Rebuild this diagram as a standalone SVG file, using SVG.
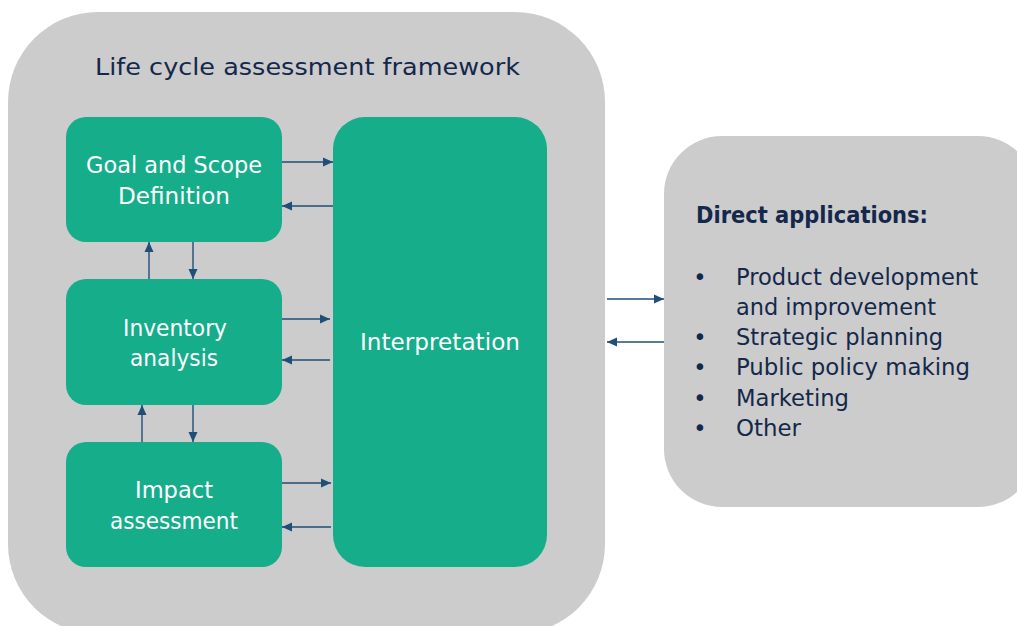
<svg xmlns="http://www.w3.org/2000/svg" width="1017" height="626" viewBox="0 0 1017 626">
<style>
.frame{fill:#cccccc}
.node{fill:#16ad8a}
.wt{fill:#ffffff;font-family:"DejaVu Sans",Verdana,sans-serif;font-size:22.5px;text-anchor:middle}
.dt{fill:#14284b;font-family:"DejaVu Sans",Verdana,sans-serif;font-size:22.5px}
.conn line{stroke:#1f4e79;stroke-width:1.4;marker-end:url(#ah)}
</style>
<defs>
<marker id="ah" viewBox="0 0 10 10" refX="10" refY="5" markerWidth="10" markerHeight="10" markerUnits="userSpaceOnUse" orient="auto">
<path d="M0,0.5 L10,5 L0,9.5 Z" fill="#1f4e79"/>
</marker>
</defs>
<rect width="1017" height="626" fill="#ffffff"/>
<g id="framework">
<rect class="frame" x="8" y="12" width="597" height="622" rx="90" ry="90"/>
<text class="dt" x="95" y="75" font-size="23" textLength="425" lengthAdjust="spacingAndGlyphs">Life cycle assessment framework</text>
</g>
<g id="goal">
<rect class="node" x="66" y="117" width="216" height="125" rx="20"/>
<text class="wt" x="174" y="173" textLength="176" lengthAdjust="spacingAndGlyphs">Goal and Scope</text>
<text class="wt" x="174" y="204" textLength="112" lengthAdjust="spacingAndGlyphs">Definition</text>
</g>
<g id="inventory">
<rect class="node" x="66" y="279" width="216" height="126" rx="20"/>
<text class="wt" x="175" y="336" textLength="104" lengthAdjust="spacingAndGlyphs">Inventory</text>
<text class="wt" x="174" y="366" textLength="88" lengthAdjust="spacingAndGlyphs">analysis</text>
</g>
<g id="impact">
<rect class="node" x="66" y="442" width="216" height="125" rx="20"/>
<text class="wt" x="174" y="498" textLength="78" lengthAdjust="spacingAndGlyphs">Impact</text>
<text class="wt" x="174" y="529" textLength="128" lengthAdjust="spacingAndGlyphs">assessment</text>
</g>
<g id="interpretation">
<rect class="node" x="333" y="117" width="214" height="450" rx="32"/>
<text class="wt" x="440" y="350" textLength="160" lengthAdjust="spacingAndGlyphs">Interpretation</text>
</g>
<g id="applications">
<rect class="frame" x="664" y="136" width="372" height="371" rx="58"/>
<text class="dt" x="696" y="223" font-weight="bold" font-size="21" textLength="232" lengthAdjust="spacingAndGlyphs">Direct applications:</text>
<g class="dt">
<text x="700" y="285" text-anchor="middle">•</text>
<text x="736" y="285" textLength="242" lengthAdjust="spacingAndGlyphs">Product development</text>
<text x="736" y="315" textLength="200" lengthAdjust="spacingAndGlyphs">and improvement</text>
<text x="700" y="345" text-anchor="middle">•</text>
<text x="736" y="345" textLength="207" lengthAdjust="spacingAndGlyphs">Strategic planning</text>
<text x="700" y="375" text-anchor="middle">•</text>
<text x="736" y="375" textLength="234" lengthAdjust="spacingAndGlyphs">Public policy making</text>
<text x="700" y="406" text-anchor="middle">•</text>
<text x="736" y="406" textLength="113" lengthAdjust="spacingAndGlyphs">Marketing</text>
<text x="700" y="436" text-anchor="middle">•</text>
<text x="736" y="436" textLength="65" lengthAdjust="spacingAndGlyphs">Other</text>
</g>
</g>
<g id="connectors" class="conn">
<line x1="282" y1="162" x2="333" y2="162"/>
<line x1="333" y1="206" x2="282" y2="206"/>
<line x1="149" y1="279" x2="149" y2="242"/>
<line x1="193" y1="242" x2="193" y2="279"/>
<line x1="282" y1="319" x2="330" y2="319"/>
<line x1="330" y1="360" x2="282" y2="360"/>
<line x1="142" y1="442" x2="142" y2="405"/>
<line x1="193" y1="405" x2="193" y2="442"/>
<line x1="282" y1="483" x2="331" y2="483"/>
<line x1="331" y1="527" x2="282" y2="527"/>
<line x1="607" y1="299" x2="664" y2="299"/>
<line x1="664" y1="342" x2="607" y2="342"/>
</g>
</svg>
